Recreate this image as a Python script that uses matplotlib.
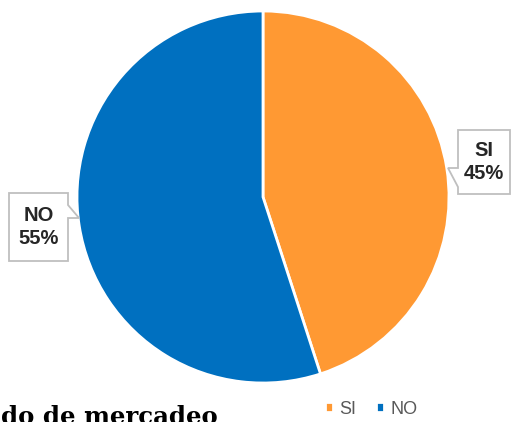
import matplotlib.pyplot as plt
from matplotlib.patches import Polygon

# chart data
categories = ["SI", "NO"]
values = [45, 55]
colors = ["#FF9933", "#0070C0"]
title = "do de mercadeo"   # only this part of the title is visible

W, H = 511, 422
fig = plt.figure(figsize=(W / 100, H / 100), dpi=100)

# pixel (from top-left) -> figure fraction
def fx(x):
    return x / W

def fy(y):
    return 1 - y / H

# pie centre at (263, 197) px, radius ~186 px
cx, cy, r = 263, 197, 186
ax = fig.add_axes([(cx - r) / W, (H - cy - r) / H, 2 * r / W, 2 * r / H])
wedges, _ = ax.pie(values, colors=colors, startangle=90, counterclock=False,
                   radius=1, wedgeprops=dict(edgecolor="white", linewidth=2))
ax.set_xlim(-1, 1)
ax.set_ylim(-1, 1)
ax.set_aspect("equal")
ax.axis("off")

label_font = ["Liberation Sans", "DejaVu Sans"]

# callout shapes (pixel outlines with the little pointer)
callouts = [
    [(458, 130), (510, 130), (510, 194), (458, 194), (458, 187), (448, 168), (458, 168)],
    [(9, 193), (68, 193), (68, 205), (79, 218), (68, 218), (68, 261), (9, 261)],
]
label_pos = [(484, 162), (39, 227)]
for pts, (px, py), cat, val in zip(callouts, label_pos, categories, values):
    fig.patches.append(Polygon([(fx(x), fy(y)) for x, y in pts], closed=True,
                               transform=fig.transFigure, fc="white", ec="#BFBFBF",
                               lw=1.3, zorder=3))
    fig.text(fx(px), fy(py), "%s\n%d%%" % (cat, val), ha="center", va="center",
             fontsize=14.5, fontweight="bold", color="#262626",
             family=label_font, linespacing=1.25, zorder=4)

# legend
leg = fig.legend(wedges, categories, loc="center", bbox_to_anchor=(fx(371), fy(409)),
                 ncol=2, frameon=False, handlelength=0.45, handleheight=0.45,
                 handletextpad=0.35, columnspacing=1.1,
                 prop=dict(family=label_font, size=13))
for t in leg.get_texts():
    t.set_color("#595959")

# title cut off at the bottom
fig.text(fx(218), fy(424), title, ha="right", va="baseline",
         fontsize=17.6, fontweight="bold", family="DejaVu Serif", color="black")

fig.savefig("out.png", dpi=100)
